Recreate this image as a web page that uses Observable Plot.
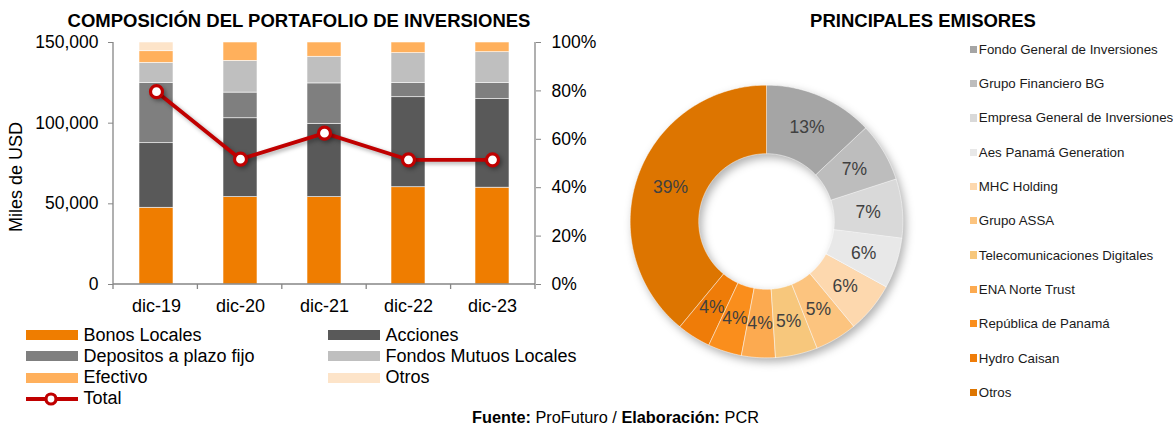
<!DOCTYPE html>
<html><head><meta charset="utf-8">
<script src="https://cdn.jsdelivr.net/npm/d3@7"></script>
<script src="https://cdn.jsdelivr.net/npm/@observablehq/plot@0.6"></script>
<style>
body{margin:0;background:#fff;font-family:"Liberation Sans",Arial,sans-serif;color:#000;}
#root{position:relative;width:1173px;height:425px;overflow:hidden;background:#fff;}
.abs{position:absolute;}
.title{font-weight:bold;font-size:18.5px;white-space:nowrap;transform:translate(-50%,-50%);}
.ylab{font-size:18px;white-space:nowrap;transform:translate(-50%,-50%) rotate(-90deg);}
.leg{font-size:18px;white-space:nowrap;display:flex;align-items:center;height:20px;transform:translateY(-50%);}
.leg .sw{width:52px;height:10px;margin-right:5.5px;flex:none;}
.dleg{font-size:13.3px;white-space:nowrap;display:flex;align-items:center;height:16px;color:#1a1a1a;transform:translateY(-50%);}
.dleg .sq{width:7.3px;height:7.3px;margin-right:2px;flex:none;}
.foot{font-size:16.3px;white-space:nowrap;transform:translate(-50%,-50%);}
#left g[aria-label="line"], #left g[aria-label="dot"]{filter:drop-shadow(2px 2px 2px rgba(0,0,0,0.35));}
#donut g[aria-label="line"]{filter:drop-shadow(3px 4px 4px rgba(0,0,0,0.3));}
</style></head>
<body><div id="root"></div>
<script>
// ---- Data: portfolio composition (% of total) ----
const periods = ["dic-19","dic-20","dic-21","dic-22","dic-23"];
const instruments = ["Bonos Locales","Acciones","Depositos a plazo fijo","Fondos Mutuos Locales","Efectivo","Otros"];
const bonos     = [31.7, 36.1, 36.1, 40.2, 40.0];
const acciones  = [26.7, 32.6, 30.3, 37.2, 36.6];
const depositos = [24.9, 10.6, 16.7,  5.8,  6.6];
const fondos    = [ 8.3, 13.1, 11.0, 12.4, 12.8];
const efectivo  = [ 4.8,  7.6,  5.9,  4.4,  4.0];
const otros     = [ 3.6,  0.0,  0.0,  0.0,  0.0];
const totalMiles = [119500, 77700, 93800, 77300, 77300];
const instrumentColors = ["#ef7d00","#595959","#7f7f7f","#bfbfbf","#ffb05c","#fde4c9"];
const leftMax = 150000;
const leftTicks = [0, 50000, 100000, 150000];
const rightTicks = [0, 20, 40, 60, 80, 100];

// ---- Data: principales emisores ----
const emisores = ["Fondo General de Inversiones","Grupo Financiero BG","Empresa General de Inversiones","Aes Panamá Generation","MHC Holding","Grupo ASSA","Telecomunicaciones Digitales","ENA Norte Trust","República de Panamá","Hydro Caisan","Otros"];
const emisorShare = [13, 7, 7, 6, 6, 5, 5, 4, 4, 4, 39];
const emisorColors = ["#a5a5a5","#bdbdbd","#d9d9d9","#e8e8e8","#fdd8ae","#fcc47f","#f7c77c","#fcaa50","#fa8e1c","#ef7c08","#dd7500"];

const root = document.getElementById("root");
function add(html, cls, style){ const d=document.createElement("div"); d.className="abs "+cls; d.innerHTML=html; Object.assign(d.style, style); root.appendChild(d); return d; }

// ---- Left chart ----
const series = [bonos, acciones, depositos, fondos, efectivo, otros];
const rows = periods.flatMap((p,i)=>instruments.map((name,k)=>({period:p, instrument:name, share:series[k][i]})));
const totalRows = periods.map((p,i)=>({period:p, total:totalMiles[i]}));

function frameLines(index, scales, values, dims){
  const {width:w,height:h,marginLeft:ml,marginRight:mr,marginTop:mt,marginBottom:mb} = dims;
  const g = d3.create("svg:g").attr("stroke","#868686").attr("stroke-width",1.3).attr("fill","none");
  const x0=ml, x1=w-mr, yb=h-mb;
  g.append("line").attr("x1",x0).attr("x2",x0).attr("y1",mt).attr("y2",yb);
  g.append("line").attr("x1",x1).attr("x2",x1).attr("y1",mt).attr("y2",yb);
  g.append("line").attr("x1",x0).attr("x2",x1).attr("y1",yb).attr("y2",yb);
  const n = periods.length;
  for(let i=0;i<=n;i++){ const x=x0+i*(x1-x0)/n; g.append("line").attr("x1",x).attr("x2",x).attr("y1",yb).attr("y2",yb+5); }
  return g.node();
}

const left = Plot.plot({
  width:640, height:290, marginLeft:113, marginRight:105, marginTop:12, marginBottom:36,
  style:{fontFamily:"'Liberation Sans', Arial, sans-serif", fontSize:"17.5px", color:"#000", background:"transparent", overflow:"visible"},
  x:{domain:periods, paddingInner:0.6, paddingOuter:0.3},
  y:{domain:[0,1]},
  color:{domain:instruments, range:instrumentColors},
  marks:[
    Plot.barY(rows, Plot.stackY({offset:"normalize", order:instruments, x:"period", y:"share", fill:"instrument", stroke:"white", strokeWidth:0.7, strokeOpacity:0.8})),
    frameLines,
    Plot.axisY({anchor:"left", ticks:leftTicks.map(v=>v/leftMax), tickFormat:d=>d3.format(",")(Math.round(d*leftMax)), tickSize:5, tickPadding:10, stroke:"#868686", fill:"#000", label:null}),
    Plot.axisY({anchor:"right", ticks:rightTicks.map(v=>v/100), tickFormat:d=>Math.round(d*100)+"%", tickSize:5, tickPadding:11, stroke:"#868686", fill:"#000", label:null}),
    Plot.axisX({tickSize:0, tickPadding:15, fontSize:18, fill:"#000", label:null}),
    Plot.line(totalRows, {x:"period", y:d=>d.total/leftMax, stroke:"#c00000", strokeWidth:3.8}),
    Plot.dot(totalRows, {x:"period", y:d=>d.total/leftMax, r:6, fill:"white", stroke:"#c00000", strokeWidth:3.2})
  ]
});
const lw = document.createElement("div"); lw.id="left"; lw.className="abs"; Object.assign(lw.style,{left:"0px", top:"30px"}); lw.appendChild(left); root.appendChild(lw);

add("COMPOSICIÓN DEL PORTAFOLIO DE INVERSIONES","title",{left:"299px", top:"21px"});
add("Miles de USD","ylab",{left:"16px", top:"177px"});

// legend
const legPos = [[26,335],[328,335],[26,356],[328,356],[26,377.5],[328,377.5]];
instruments.forEach((n,i)=>{
  add(`<span class="sw" style="background:${instrumentColors[i]}"></span>${n}`,"leg",{left:legPos[i][0]+"px", top:legPos[i][1]+"px"});
});
add(`<svg width="52" height="16" style="margin-right:5.5px;flex:none"><line x1="0" x2="52" y1="8" y2="8" stroke="#c00000" stroke-width="3.8"/><circle cx="25" cy="8" r="5" fill="white" stroke="#c00000" stroke-width="3.2"/></svg>Total`,"leg",{left:"26px", top:"398.5px"});

// ---- Donut ----
const emisorRows = emisores.map((n,i)=>({name:n, share:emisorShare[i]}));
const pie = d3.pie().sort(null).value(d=>d.share)(emisorRows);
const rInner = 0.497, rOuter = 1, rLabel = (rInner+rOuter)/2;
const polyPts = pie.flatMap(s=>{
  const pts=[]; const steps=Math.max(2,Math.ceil((s.endAngle-s.startAngle)/0.02));
  for(let j=0;j<=steps;j++){ const a=s.startAngle+(s.endAngle-s.startAngle)*j/steps; pts.push({name:s.data.name, x:Math.sin(a)*rOuter, y:Math.cos(a)*rOuter}); }
  for(let j=steps;j>=0;j--){ const a=s.startAngle+(s.endAngle-s.startAngle)*j/steps; pts.push({name:s.data.name, x:Math.sin(a)*rInner, y:Math.cos(a)*rInner}); }
  return pts;
});
const mid = s=>(s.startAngle+s.endAngle)/2;
const donut = Plot.plot({
  width:300, height:300, margin:0,
  style:{fontFamily:"'Liberation Sans', Arial, sans-serif", background:"transparent", overflow:"visible"},
  x:{domain:[-1.1,1.1], axis:null},
  y:{domain:[-1.1,1.1], axis:null},
  color:{domain:emisores, range:emisorColors},
  marks:[
    Plot.line(polyPts, {x:"x", y:"y", z:"name", fill:"name", stroke:"white", strokeWidth:0.8, strokeOpacity:0.6, curve:"linear-closed"}),
    Plot.text(pie, {x:s=>Math.sin(mid(s))*rLabel, y:s=>Math.cos(mid(s))*rLabel, text:s=>s.data.share+"%", fill:"#404040", fontSize:17.5})
  ]
});
const dw = document.createElement("div"); dw.id="donut"; dw.className="abs"; Object.assign(dw.style,{left:"615.5px", top:"71px"}); dw.appendChild(donut); root.appendChild(dw);

add("PRINCIPALES EMISORES","title",{left:"923px", top:"21px"});
emisores.forEach((n,i)=>{
  add(`<span class="sq" style="background:${emisorColors[i]}"></span>${n}`,"dleg",{left:"969.5px", top:(49.3+i*34.3)+"px"});
});

add("<b>Fuente:</b> ProFuturo / <b>Elaboración:</b> PCR","foot",{left:"615.5px", top:"417px"});
</script>
</body></html>
